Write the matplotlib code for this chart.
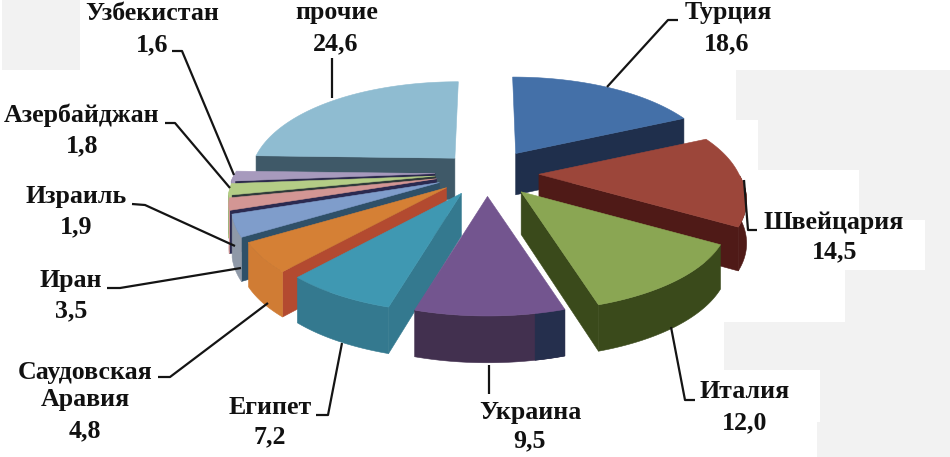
import numpy as np
from matplotlib import pyplot as plt
from matplotlib.patches import Polygon, Rectangle

plt.rcParams['font.family'] = ['Liberation Serif', 'DejaVu Serif']

names = ['Турция', 'Швейцария', 'Италия', 'Украина', 'Египет', 'Саудовская\nАравия',
         'Иран', 'Израиль', 'Азербайджан', 'Узбекистан', 'прочие']
values = [18.6, 14.5, 12.0, 9.5, 7.2, 4.8, 3.5, 1.9, 1.8, 1.6, 24.6]
value_labels = ['18,6', '14,5', '12,0', '9,5', '7,2', '4,8', '3,5', '1,9', '1,8', '1,6', '24,6']

top_cols = ['#4470a8', '#9c463a', '#8aa653', '#73558f', '#3f98b2', '#d58035',
            '#7f9dcb', '#d39694', '#b4cd86', '#a79abd', '#8fbcd1']
wall_cols = ['#1f2f4c', '#4f1a17', '#3a4a1b', '#42304f', '#34798f', '#b34a30',
             '#2f5068', '#2b2a50', '#2f3a3a', '#2c2a4c', '#3f5968']
outer_cols = ['#1f2f4c', '#4f1a17', '#3a4a1b', '#42304f', '#34798f', '#d07c34',
              '#8f99a8', '#d39694', '#b4cd86', '#a79abd', '#3f5968']

cx, cy = 487, 173     # pie centre, pixels
rad_x = 200
persp_front = 0.29
persp_back = 0.2
rad_y = 98
persp_y = 0.22
squash = 0.45
shear = 0.0014
explode = [52, 52, 54, 52, 52, 52, 52, 52, 52, 52, 46]
depth = 42

# gray scan patches behind the chart
patches = [(2, 0, 80, 70), (736, 70, 950, 120), (758, 120, 950, 170), (859, 170, 950, 220),
           (925, 220, 950, 270), (845, 270, 950, 322), (724, 322, 950, 370),
           (820, 370, 950, 422), (817, 422, 950, 457)]

# leader lines
leaders = {
    'Турция': [(678, 20), (668, 20), (607, 87)],
    'Швейцария': [(757, 230), (748, 230), (744, 180)],
    'Италия': [(695, 400), (685, 400), (671, 327)],
    'Украина': [(489, 394), (489, 365)],
    'Египет': [(316, 415), (328, 415), (342, 343)],
    'Саудовская\nАравия': [(158, 377), (170, 377), (268, 303)],
    'Иран': [(107, 288), (120, 288), (241, 268)],
    'Израиль': [(132, 204), (145, 205), (235, 246)],
    'Азербайджан': [(165, 123), (175, 123), (230, 188)],
    'Узбекистан': [(172, 51), (182, 51), (234, 175)],
    'прочие': [(332, 58), (332, 98)],
}
# label centres, pixels (name block, value)
label_pos = {
    'Турция': (728, 13, 727, 44), 'Швейцария': (834, 222, 835, 252), 'Италия': (745, 392, 745, 423),
    'Украина': (530, 412, 530, 441), 'Египет': (270, 407, 270, 437),
    'Саудовская\nАравия': (85, 386, 85, 431), 'Иран': (71, 281, 71, 311), 'Израиль': (76, 197, 76, 227),
    'Азербайджан': (82, 115, 82, 146), 'Узбекистан': (152, 14, 152, 45), 'прочие': (337, 13, 336, 44),
}
draw_order = [10, 9, 8, 7, 6, 5, 4, 0, 1, 2, 3]


def rim(theta, ax_x):
    c = np.cos(theta)
    ry = -rad_y * c * (1 - persp_y * c)
    p = np.where(c > 0, persp_back, persp_front)
    rx = rad_x * np.sin(theta) * (1 - p * c) + (ax_x - cx) * shear * np.minimum(ry, 0)
    return rx, ry


def drop(pts):
    pts = np.asarray(pts, float)
    out = pts.copy()
    out[:, 1] += depth * (1 + 0.0008 * (pts[:, 1] - cy))
    return out


fig = plt.figure(figsize=(9.5, 4.57), dpi=100)
ax = fig.add_axes([0, 0, 1, 1])
ax.set_xlim(0, 950)
ax.set_ylim(457, 0)
ax.axis('off')

for x0, y0, x1, y1 in patches:
    ax.add_patch(Rectangle((x0, y0), x1 - x0, y1 - y0, fc='#f2f2f2', ec='none', zorder=0))

edges = np.radians(np.concatenate([[0], np.cumsum(values)]) * 360 / sum(values))

z = 2.0
def add_face(pts, col):
    global z
    ax.add_patch(Polygon(pts, fc=col, ec=col, lw=0.4, zorder=z))
    z += 0.01


for i in draw_order:
    t0, t1 = edges[i], edges[i + 1]
    mid = (t0 + t1) / 2
    ax_x = cx + explode[i] * np.sin(mid)
    ax_y = cy - explode[i] * squash * np.cos(mid)
    apex = np.array([ax_x, ax_y])
    ts = np.linspace(t0, t1, 60)
    rx, ry = rim(ts, ax_x)
    arc = np.column_stack([ax_x + rx, ax_y + ry])

    # radial walls that face the viewer
    if np.sin(t0) < 0:
        w = np.array([apex, arc[0]])
        add_face(np.vstack([w, drop(w)[::-1]]), wall_cols[i])
    if np.sin(t1) > 0:
        w = np.array([apex, arc[-1]])
        add_face(np.vstack([w, drop(w)[::-1]]), wall_cols[i])
    # outer wall
    front = np.cos(ts) < 0
    if front.any():
        a = arc[front]
        add_face(np.vstack([a, drop(a)[::-1]]), outer_cols[i])
    if names[i] == 'Украина':
        a = arc[arc[:, 0] > 533]
        add_face(np.vstack([a, drop(a)[::-1]]), '#252f4d')
    add_face(np.vstack([apex, arc]), top_cols[i])

for n, v in zip(names, value_labels):
    pts = np.array(leaders[n])
    ax.plot(pts[:, 0], pts[:, 1], color='#141414', lw=1.6, zorder=5, solid_capstyle='butt')
    nx, ny, vx, vy = label_pos[n]
    ax.text(nx, ny, n, ha='center', va='center', fontsize=18.6, fontweight='bold', color='#111111',
            linespacing=1.27, zorder=6)
    ax.text(vx, vy, v, ha='center', va='center', fontsize=18.6, fontweight='bold', color='#111111', zorder=6)

fig.savefig('out.png', dpi=100)
